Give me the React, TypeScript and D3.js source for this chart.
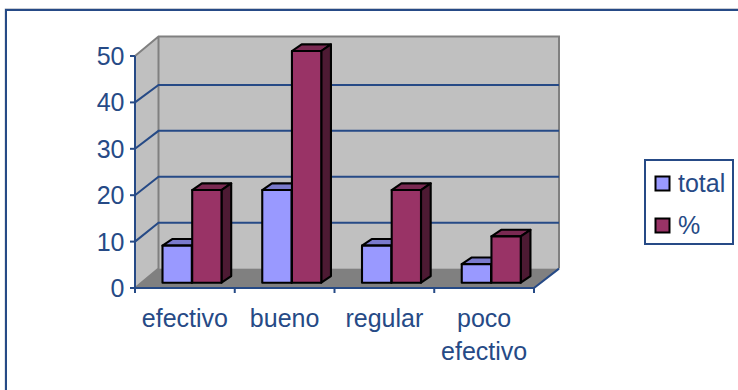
import React from "react";
import * as d3 from "d3";

// Survey answers, as a count and as a percentage, per rating.
const categories = ["efectivo", "bueno", "regular", "poco efectivo"];
const totalValues = [8, 20, 8, 4];
const percentValues = [20, 50, 20, 10];
const yTicks = [0, 10, 20, 30, 40, 50];
const seriesNames = ["total", "%"];

const NAVY = "#264a86";
const FONT = "'Liberation Sans', Arial, sans-serif";

const seriesColors = [
  { front: "#9999ff", top: "#7a7acc", side: "#4d4d80" },
  { front: "#993366", top: "#7a2952", side: "#4d1a33" },
];

type Pt = [number, number];
const polygon = (pts: Pt[]) => (d3.line()(pts) ?? "") + "Z";

export default function App() {
  // Front plane of the 3D box and its offset to the back wall.
  const xCat = d3.scaleBand<string>().domain(categories).range([135, 534]);
  const yFront = d3.scaleLinear().domain([0, 50]).range([288, 56]);
  const yBack = d3.scaleLinear().domain([0, 50]).range([268.6, 39]);
  const yBar = d3.scaleLinear().domain([0, 50]).range([282.7, 51]);
  const backLeft = 158.5;
  const backRight = 559;
  const wallTop = 36.5;

  const barOffset = 27.5;
  const barWidth = 29.3;
  const depthX = 9.7;
  const depthY = 6.6;

  const bar = (x0: number, value: number, c: (typeof seriesColors)[number], key: string) => {
    const x1 = x0 + barWidth;
    const top = yBar(value);
    const base = yBar(0);
    return (
      <g key={key} stroke="#000" strokeWidth={2.1} strokeLinejoin="round">
        <path d={polygon([[x0, top], [x0 + depthX, top - depthY], [x1 + depthX, top - depthY], [x1, top]])} fill={c.top} />
        <path d={polygon([[x1, top], [x1 + depthX, top - depthY], [x1 + depthX, base - depthY], [x1, base]])} fill={c.side} />
        <rect x={x0} y={top} width={barWidth} height={base - top} fill={c.front} />
      </g>
    );
  };

  return (
    <svg
      width={738}
      height={390}
      style={{ position: "absolute", left: 0, top: 0, background: "#fff" }}
      fontFamily={FONT}
    >
      {/* Outer frame: only the top and left edges show */}
      <path d="M5,390V8.5H738" fill="none" stroke="#c8ccd4" strokeWidth={1} />
      <path d="M6,390V10H738" fill="none" stroke={NAVY} strokeWidth={2} />

      {/* Walls and floor */}
      <path d={polygon([[135, yFront(50)], [backLeft, wallTop], [backLeft, yBack(0)], [135, yFront(0)]])} fill="#c0c0c0" />
      <rect x={backLeft} y={wallTop} width={backRight - backLeft} height={yBack(0) - wallTop} fill="#c0c0c0" />
      <path d={polygon([[135, yFront(0)], [backLeft, yBack(0)], [backRight, yBack(0)], [534, yFront(0)]])} fill="#808080" />

      {/* Wall outlines */}
      <path
        d={`M135,${yFront(50)}L${backLeft},${wallTop}H${backRight}V${yBack(0)}M${backLeft},${wallTop}V${yBack(0)}L135,${yFront(0)}`}
        fill="none"
        stroke="#808080"
        strokeWidth={2}
      />

      {/* Gridlines bend from the side wall onto the back wall */}
      {yTicks
        .filter((t) => t > 0 && t < 50)
        .map((t) => (
          <path
            key={t}
            d={`M135,${yFront(t)}L${backLeft},${yBack(t)}H${backRight}`}
            fill="none"
            stroke={NAVY}
            strokeWidth={2}
          />
        ))}

      {/* Bars */}
      {categories.map((cat, i) => {
        const x0 = (xCat(cat) ?? 0) + barOffset;
        return (
          <g key={cat}>
            {bar(x0, totalValues[i], seriesColors[0], "total")}
            {bar(x0 + barWidth + 0.4, percentValues[i], seriesColors[1], "pct")}
          </g>
        );
      })}

      {/* Axes */}
      <g stroke={NAVY} strokeWidth={2} fill="none">
        <path d={`M135,${yFront(50)}V${yFront(0)}H534L${backRight},${yBack(0)}`} />
        {yTicks.map((t) => (
          <path key={t} d={`M130,${yFront(t)}H135`} />
        ))}
        {[...categories.map((c) => xCat(c) ?? 0), 534].map((x) => (
          <path key={x} d={`M${x},${yFront(0)}v5`} />
        ))}
      </g>

      {/* Axis labels */}
      <g fill={NAVY} fontSize={25}>
        {yTicks.map((t) => (
          <text key={t} x={124.5} y={yFront(t) + 9} textAnchor="end">
            {t}
          </text>
        ))}
        {categories.map((cat) => {
          const cx = (xCat(cat) ?? 0) + xCat.bandwidth() / 2;
          return cat.split(" ").map((word, j) => (
            <text key={word} x={cx} y={327 + j * 33} textAnchor="middle">
              {word}
            </text>
          ));
        })}
      </g>

      {/* Legend */}
      <rect x={645} y={160} width={88} height={84} fill="#fff" stroke={NAVY} strokeWidth={2} />
      {seriesNames.map((name, i) => (
        <g key={name}>
          <rect x={655.5} y={176.5 + i * 42} width={14} height={14} fill={seriesColors[i].front} stroke="#000" strokeWidth={2} />
          <text x={678} y={192 + i * 42} fill={NAVY} fontSize={25}>
            {name}
          </text>
        </g>
      ))}
    </svg>
  );
}
